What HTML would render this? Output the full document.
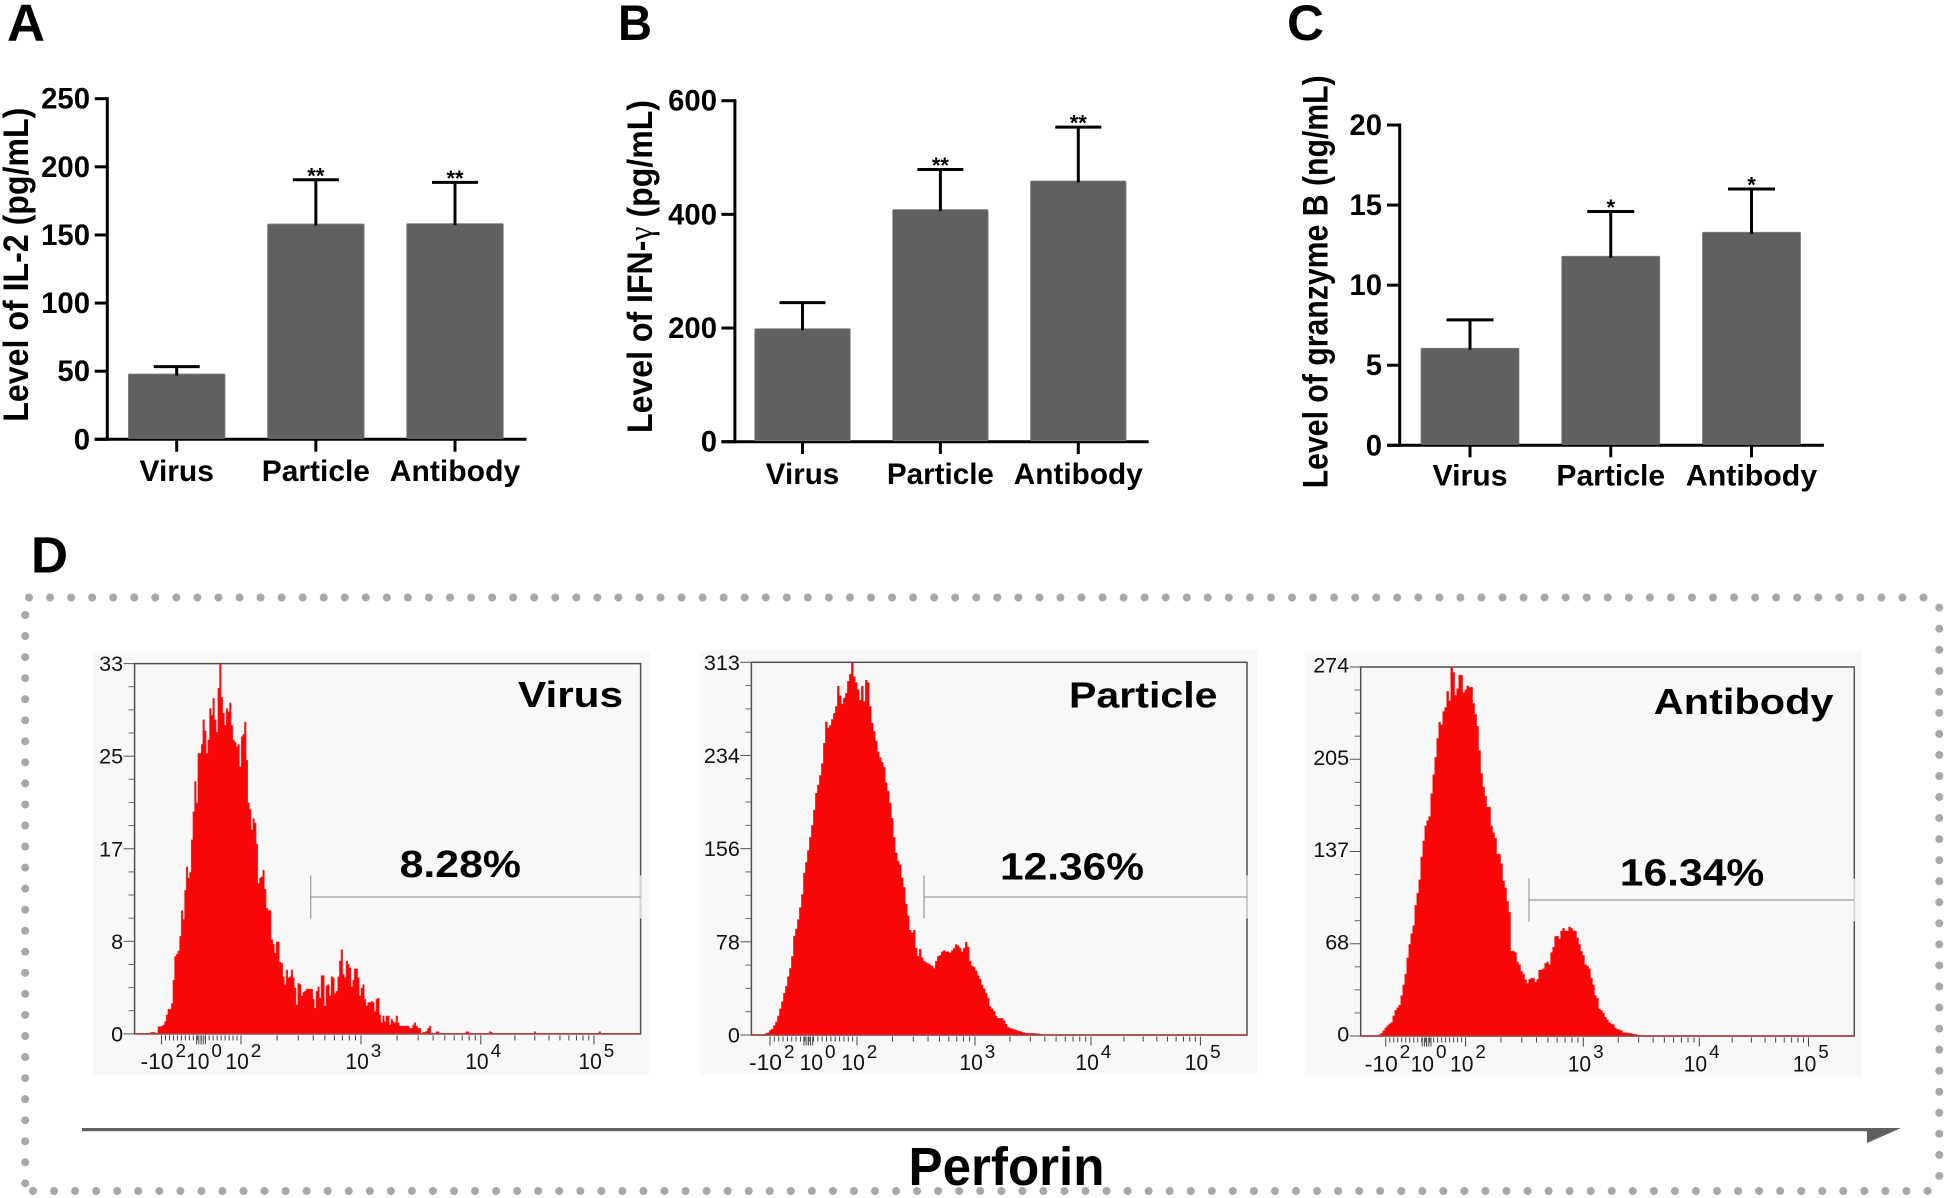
<!DOCTYPE html>
<html lang="en">
<head>
<meta charset="utf-8">
<title>Cytokine levels and perforin flow cytometry</title>
<style>
html,body{margin:0;padding:0;background:#fff;width:1946px;height:1198px;overflow:hidden}
svg{display:block}
text{font-family:"Liberation Sans",Arial,sans-serif}
</style>
</head>
<body>
<svg id="fig" xmlns="http://www.w3.org/2000/svg" width="1946" height="1198" viewBox="0 0 1946 1198">
  <rect x="0" y="0" width="1946" height="1198" fill="#fff"/>
  <g font-weight="700" fill="#000">
    <text x="7" y="40.5" font-size="52" textLength="38" lengthAdjust="spacingAndGlyphs">A</text>
    <text x="618" y="40" font-size="50" textLength="34" lengthAdjust="spacingAndGlyphs">B</text>
    <text x="1287" y="40" font-size="50" textLength="37" lengthAdjust="spacingAndGlyphs">C</text>
    <text x="31" y="572.5" font-size="51" textLength="37" lengthAdjust="spacingAndGlyphs">D</text>
  </g>
  <g stroke="#a8a8aa" stroke-width="8" stroke-linecap="round" stroke-dasharray="0 21.05" fill="none">
    <line x1="29" y1="597.5" x2="1935" y2="597.5"/>
    <line x1="25.2" y1="615" x2="25.2" y2="1186"/>
    <line x1="33" y1="1191" x2="1940" y2="1191"/>
    <line x1="1939.3" y1="607.6" x2="1939.3" y2="1182"/>
  </g>
  <g id="charts"></g>
  <g>
    <rect x="82" y="1128" width="1787" height="3.2" fill="#5f5f5f"/>
    <polygon points="1867,1128 1901,1128 1867,1143" fill="#5f5f5f"/>
  </g>
  <text x="908.5" y="1185" font-size="54" font-weight="700" fill="#000" textLength="196" lengthAdjust="spacingAndGlyphs">Perforin</text>
</svg>
<script>
const categories = ['Virus', 'Particle', 'Antibody'];

const il2Means = [47.9, 158, 158.3];
const il2Errors = [5.4, 32.5, 30.3];
const il2Ticks = [0, 50, 100, 150, 200, 250];
const il2Stars = ['', '**', '**'];

const ifnMeans = [198.8, 408.4, 458.7];
const ifnErrors = [45.8, 70.6, 94.9];
const ifnTicks = [0, 200, 400, 600];
const ifnStars = ['', '**', '**'];

const gzmMeans = [6.06, 11.8, 13.3];
const gzmErrors = [1.77, 2.8, 2.7];
const gzmTicks = [0, 5, 10, 15, 20];
const gzmStars = ['', '*', '*'];

const virusCounts = [
0,0,0,0,0,0,0,0,0,0.1,0.15,0.15,0.1,0,
0.65,0.65,0.7,0.8,1.1,1.7,2.2,2.2,2.7,4.8,6.9,7.1,7.4,8.7,11,10.2,12.8,14.9,13.9,14.4,17.3,19.8,22.5,20.6,25,25,25.8,28,27,25,26.2,29,28.4,29.9,28,26.9,30.8,33,30,28.6,27.5,29,28.7,29.5,27.5,26.2,26,25.6,25.8,23.8,26.5,26.7,27.8,24.4,20.6,20,18.2,19.2,18.8,16.9,13.4,13.9,14,14.6,12.9,11.2,11,11,8.4,8,7.2,8.2,8.2,6.4,6.3,5.1,4.4,5.7,5,5.1,5.7,5,4.1,2.6,4.5,4.4,
3.4,3.7,3.8,4,4,4,4,3.1,2.3,3.8,4.2,3.2,5.2,5.2,2.5,4.3,4.4,3.4,5.1,5,3.6,3.8,5.1,6.5,7.5,5.3,5,6.5,6.2,5.9,4.2,4.8,5.8,5.8,5,3.4,4.1,4.4,3.1,2.5,2.8,2.8,2.9,2.8,2,3.1,3.2,1.7,1,1.6,1.1,1.6,1.6,0.8,1.3,1.1,1,1.6,1,0.7,0.7,0.7,0.7,0.7,0.7,0.5,0.5,0.8,1,0.7,0.5,0.5,0,0.15,0.15,0.25,0.5,0.7,0.1,0,0,0.2,0.2,0,
0,0,0,0,0,0,0,0,0,0,0,0,0,0,0,0.2,0.2,0,0,0,0,0,0,0,0,0,0,0,0,0.2,0.15,
0,0,0,0,0,0,0,0,0,0,0,0,0,0,0,0,0,0,0,0,0,0,0,0,0,0.2,
0,0,0,0,0,0,0,0,0,0,0,0,0,0,0,0,0,0,0,0,0,0,0,0,0,0,0,0,0,0,0,0,0,0,0,0,0,0,0.2
];
const particleCounts = [
0,0,0,0,0,0,0.6,1.5,2,4,5,8,11,16,22,28,35,41,49,56,66,83,89,97,107,118,136,145,155,166,176,189,203,210,218,228,245,263,258,260,265,270,276,293,285,278,283,287,297,303,313,301,296,290,281,293,280,298,296,276,262,255,247,238,233,229,225,212,205,195,182,166,153,146,143,132,124,110,100,88,86,88,73,66,72,65,62,61,60,59,58,56,62,66,67,70,71,70,70,69,71,73,76,75,73,70,73,78,74,62,58,57,54,50,47,42,39,35,31,24,22,20,16,14,14,14,12,9,6.5,5.8,5.2,4.8,4,3.4,3,2.6,2,1.6,1.4,1.4,1.4,1.4,1.2,1,0.8,0.6
];
const antibodyCounts = [
0,0,0,0,0,0.3,0.3,0.5,0.5,1,2,4,6,7.5,9,10,15,19,21,23,30,38,46,58,68,76,82,97,106,116,133,145,156,160,163,180,194,207,221,233,231,241,244,256,249,274,270,253,258,268,268,255,257,260,259,259,247,239,230,212,195,185,178,170,170,156,151,147,135,135,128,115,110,100,92,63,63,62,55,53,48,46,42,39,42,43,43,40,42,49,49,50,54,55,53,62,66,74,74,72,78,80,78,78,81,80,78,78,73,68,63,60,53,52,50,43,38,30,28,20,19,17,14,12,10,9,8.5,6,5,4.5,4,2.6,2.5,2.4,2,1.8,1.4,1.2,0.8,0.5,0.3,0.2
];
const virusTickValues = [0, 8.25, 16.5, 24.75, 33];
const virusTickLabels = ['0', '8', '17', '25', '33'];
const particleTickValues = [0, 78.25, 156.5, 234.75, 313];
const particleTickLabels = ['0', '78', '156', '234', '313'];
const antibodyTickValues = [0, 68.5, 137, 205.5, 274];
const antibodyTickLabels = ['0', '68', '137', '205', '274'];
const decadeExponents = ['2', '0', '2', '3', '4', '5'];

const NS = 'http://www.w3.org/2000/svg';
const root = document.getElementById('charts');

function mk(tag, attrs, name, parent) {
  const el = document.createElementNS(NS, tag);
  for (const k in attrs) el.setAttribute(k, attrs[k]);
  
  
  parent.appendChild(el);
  return el;
}
function txt(str, attrs, name, parent) {
  const el = mk('text', attrs, name, parent);
  el.textContent = str;
  return el;
}

function drawBars(c) {
  const g = mk('g', {}, c.id + '-bar-chart', root);
  const y = v => c.y0 - (v / c.yMax) * (c.y0 - c.yTop);
  const x = i => c.x0 + c.step * i;
  const AX = '#000';
  mk('line', {x1: c.axisX, y1: c.yTop - 1.5, x2: c.axisX, y2: c.y0 + 1.5, stroke: AX, 'stroke-width': 3}, c.id + '-y-axis', g);
  mk('line', {x1: c.tickL, y1: c.y0, x2: c.axisR, y2: c.y0, stroke: AX, 'stroke-width': 3}, c.id + '-x-axis', g);
  c.ticks.forEach(t => {
    mk('line', {x1: c.tickL, y1: y(t), x2: c.axisX, y2: y(t), stroke: AX, 'stroke-width': 3}, c.id + '-y-tick', g);
    const s = String(t);
    txt(s, {x: c.labelR, y: y(t) + 10, 'text-anchor': 'end', 'font-size': 30, 'font-weight': 700, fill: '#000',
      textLength: s.length * 16.3, lengthAdjust: 'spacingAndGlyphs'}, c.id + '-y-tick-label', g);
  });
  categories.forEach((cat, i) => {
    const cx = x(i);
    const top = y(c.means[i]);
    const cap = y(c.means[i] + c.errs[i]);
    mk('rect', {x: cx - c.barW / 2, y: top, width: c.barW, height: c.y0 - top - 1, fill: '#606060', stroke: '#7c7c7c', 'stroke-width': 0.8, rx: 1},
      c.id + '-bar-' + cat.toLowerCase(), g);
    mk('line', {x1: cx, y1: top + 1.5, x2: cx, y2: cap, stroke: '#000', 'stroke-width': 3}, c.id + '-error-line-' + cat.toLowerCase(), g);
    mk('line', {x1: cx - c.capW, y1: cap, x2: cx + c.capW, y2: cap, stroke: '#000', 'stroke-width': 3}, c.id + '-error-cap-' + cat.toLowerCase(), g);
    mk('line', {x1: cx, y1: c.y0, x2: cx, y2: c.tickB, stroke: AX, 'stroke-width': 3}, c.id + '-x-tick', g);
    txt(cat, {x: cx, y: c.catY + 0.5, 'text-anchor': 'middle', 'font-size': 30, 'font-weight': 700, fill: '#000',
      textLength: c.catW[i], lengthAdjust: 'spacingAndGlyphs'}, c.id + '-x-label-' + cat.toLowerCase(), g);
    if (c.stars[i]) {
      txt(c.stars[i], {x: cx, y: cap + 3.5, 'text-anchor': 'middle', 'font-size': 22, 'font-weight': 700, fill: '#000'},
        c.id + '-significance-' + cat.toLowerCase(), g);
    }
  });
  const t = txt('', {transform: 'translate(' + c.titleX + ',' + c.titleY + ') rotate(-90)', 'font-size': 35, 'font-weight': 700, fill: '#000',
    textLength: c.titleLen, lengthAdjust: 'spacingAndGlyphs'}, c.id + '-y-axis-title', g);
  c.title.forEach(part => {
    const sp = document.createElementNS(NS, 'tspan');
    sp.textContent = part;
    if (part === 'γ') {
      sp.setAttribute('font-family', '"Liberation Serif",serif');
      sp.setAttribute('font-weight', '400');
    }
    t.appendChild(sp);
  });
}

function drawHist(c) {
  const g = mk('g', {}, c.id + '-histogram', root);
  mk('rect', {x: c.bgX, y: c.bgY, width: c.bgW, height: c.bgH, fill: '#f8f8f8'}, c.id + '-plot-background', g);
  const L = c.fL, R = c.fR, T = c.fT, B = c.fB;
  const y = v => B - (v / c.yMax) * (B - T);
  const x = i => L + (i / c.bins) * (R - L);
  let d = 'M' + L + ' ' + B;
  c.counts.forEach((v, i) => {
    d += 'L' + x(i).toFixed(2) + ' ' + y(v).toFixed(2) + 'L' + x(i + 1).toFixed(2) + ' ' + y(v).toFixed(2);
  });
  d += 'L' + x(c.counts.length).toFixed(2) + ' ' + B + 'Z';
  mk('path', {d: d, fill: '#f90606', stroke: '#f04040', 'stroke-width': 0.5}, c.id + '-histogram-area', g);
  mk('rect', {x: L, y: T, width: R - L, height: B - T, fill: 'none', stroke: '#505050', 'stroke-width': 1.5}, c.id + '-plot-frame', g);
  mk('line', {x1: L, y1: B, x2: R, y2: B, stroke: '#b04040', 'stroke-width': 1.5}, c.id + '-baseline', g);

  // y axis
  for (let q = 0; q <= 16; q++) {
    const v = c.yMax * q / 16;
    if (q % 4) {
      mk('line', {x1: L - 6, y1: y(v), x2: L, y2: y(v), stroke: '#666', 'stroke-width': 1}, c.id + '-y-minor-tick', g);
    }
  }
  c.tickValues.forEach((v, i) => {
    mk('line', {x1: L - 11, y1: y(v), x2: L, y2: y(v), stroke: '#555', 'stroke-width': 1}, c.id + '-y-tick', g);
    const s = c.tickLabels[i];
    txt(s, {x: L - 11.5, y: y(v) + 7.5 + c.labelDy, 'text-anchor': 'end', 'font-size': 21.5, fill: '#111',
      textLength: s.length * 12, lengthAdjust: 'spacingAndGlyphs'}, c.id + '-y-tick-label', g);
  });

  // x axis: biexponential decades
  const M = c.decadePx;
  const tick = (px, len, name) => mk('line', {x1: px, y1: B + 1.5, x2: px, y2: B + 1.5 + len, stroke: '#444', 'stroke-width': 1}, name, g);
  M.forEach(px => tick(px, 9, c.id + '-x-tick'));
  for (let i = 1; i < 20; i++) tick(M[0] + (M[2] - M[0]) * i / 20, 5, c.id + '-x-minor-tick');
  for (let i = -2; i <= 2; i++) tick(M[1] + i * 2.2, 9, c.id + '-x-minor-tick');
  for (let dc = 2; dc < 5; dc++) {
    for (let k = 2; k <= 9; k++) tick(M[dc] + Math.log10(k) * (M[dc + 1] - M[dc]), 5, c.id + '-x-minor-tick');
  }
  M.forEach((px, i) => {
    const neg = i === 0;
    const left = px + (neg ? -21 : (i === 1 ? c.zeroOffset : -15.6));
    const w = neg ? 33 : 23.4;
    txt(neg ? '-10' : '10', {x: left, y: c.xLabelY, 'font-size': 22.5, fill: '#111', textLength: w, lengthAdjust: 'spacingAndGlyphs'}, c.id + '-x-tick-label', g);
    txt(decadeExponents[i], {x: left + w + 2, y: c.xSupY, 'font-size': 18, fill: '#111', textLength: 10.5, lengthAdjust: 'spacingAndGlyphs'}, c.id + '-x-tick-exponent', g);
  });

  // gate
  mk('line', {x1: R, y1: c.gateY - 21.5, x2: R, y2: c.gateY + 21.5, stroke: '#d8d8d8', 'stroke-width': 1.6}, c.id + '-frame-gate-gap', g);
  mk('line', {x1: c.gateX, y1: c.gateY - 21.5, x2: c.gateX, y2: c.gateY + 21.5, stroke: '#9a9a9a', 'stroke-width': 1.2}, c.id + '-gate-marker', g);
  mk('line', {x1: c.gateX, y1: c.gateY, x2: R, y2: c.gateY, stroke: '#9a9a9a', 'stroke-width': 1.2}, c.id + '-gate-line', g);

  txt(c.name, {x: c.nameX, y: c.nameY, 'font-size': 36, 'font-weight': 700, fill: '#000', textLength: c.nameW, lengthAdjust: 'spacingAndGlyphs'}, c.id + '-sample-label', g);
  txt(c.pct, {x: c.pctX, y: c.pctY, 'font-size': 38, 'font-weight': 700, fill: '#000', textLength: c.pctW, lengthAdjust: 'spacingAndGlyphs'}, c.id + '-gate-percentage', g);
}

drawBars({id: 'il2', means: il2Means, errs: il2Errors, ticks: il2Ticks, stars: il2Stars, yMax: 250,
  y0: 439.3, yTop: 98.7, axisX: 107.3, tickL: 94.7, axisR: 526.5, tickB: 451.7, labelR: 90,
  x0: 176.7, step: 139.15, barW: 96.5, capW: 23, catY: 480.7, catW: [74.4, 108.2, 130.4],
  titleX: 27.8, titleY: 421.7, titleLen: 314, title: ['Level of IL-2 (pg/mL)']});
drawBars({id: 'ifn', means: ifnMeans, errs: ifnErrors, ticks: ifnTicks, stars: ifnStars, yMax: 600,
  y0: 441.7, yTop: 100.7, axisX: 734.9, tickL: 721.4, axisR: 1148.6, tickB: 454, labelR: 717,
  x0: 802.5, step: 137.9, barW: 95.4, capW: 23, catY: 483.3, catW: [73.4, 107, 129],
  titleX: 652, titleY: 433, titleLen: 333, title: ['Level of IFN-', 'γ', ' (pg/mL)']});
drawBars({id: 'granzyme', means: gzmMeans, errs: gzmErrors, ticks: gzmTicks, stars: gzmStars, yMax: 20,
  y0: 445.3, yTop: 125, axisX: 1399.7, tickL: 1387, axisR: 1823.9, tickB: 457.3, labelR: 1382,
  x0: 1470, step: 140.75, barW: 98, capW: 23.5, catY: 485, catW: [75, 108.7, 131.4],
  titleX: 1327.3, titleY: 488.3, titleLen: 413, title: ['Level of granzyme B (ng/mL)']});

drawHist({id: 'virus', name: 'Virus', pct: '8.28%', counts: virusCounts, bins: 304, yMax: 33, labelDy: 0,
  tickValues: virusTickValues, tickLabels: virusTickLabels,
  bgX: 92.7, bgY: 651.4, bgW: 556.9, bgH: 423.2, fL: 134.6, fR: 640.6, fT: 663.6, fB: 1033.9,
  decadePx: [161.5, 201, 241, 361, 480.8, 594], zeroOffset: -15, xLabelY: 1069, xSupY: 1057,
  gateX: 310.7, gateY: 897, nameX: 518, nameY: 706.8, nameW: 105, pctX: 399.6, pctY: 877, pctW: 121.4});
drawHist({id: 'particle', name: 'Particle', pct: '12.36%', counts: particleCounts, bins: 248, yMax: 313, labelDy: 0,
  tickValues: particleTickValues, tickLabels: particleTickLabels,
  bgX: 699.6, bgY: 650.7, bgW: 557.4, bgH: 423.6, fL: 751.4, fR: 1247, fT: 662.3, fB: 1035,
  decadePx: [770, 808.3, 857, 975, 1091, 1200.4], zeroOffset: -8.7, xLabelY: 1070, xSupY: 1058,
  gateX: 924, gateY: 897, nameX: 1069, nameY: 707.7, nameW: 148.5, pctX: 1000, pctY: 879.3, pctW: 144});
drawHist({id: 'antibody', name: 'Antibody', pct: '16.34%', counts: antibodyCounts, bins: 247, yMax: 274, labelDy: -2,
  tickValues: antibodyTickValues, tickLabels: antibodyTickLabels,
  bgX: 1304.6, bgY: 652.5, bgW: 557.4, bgH: 423.9, fL: 1360.7, fR: 1854.3, fT: 667, fB: 1036,
  decadePx: [1385.8, 1426.6, 1465.6, 1583.3, 1699.3, 1808.5], zeroOffset: -16, xLabelY: 1071.3, xSupY: 1058,
  gateX: 1529, gateY: 900, nameX: 1653.8, nameY: 714, nameW: 179.7, pctX: 1619.8, pctY: 885.4, pctW: 144.5});
</script>
</body>
</html>
